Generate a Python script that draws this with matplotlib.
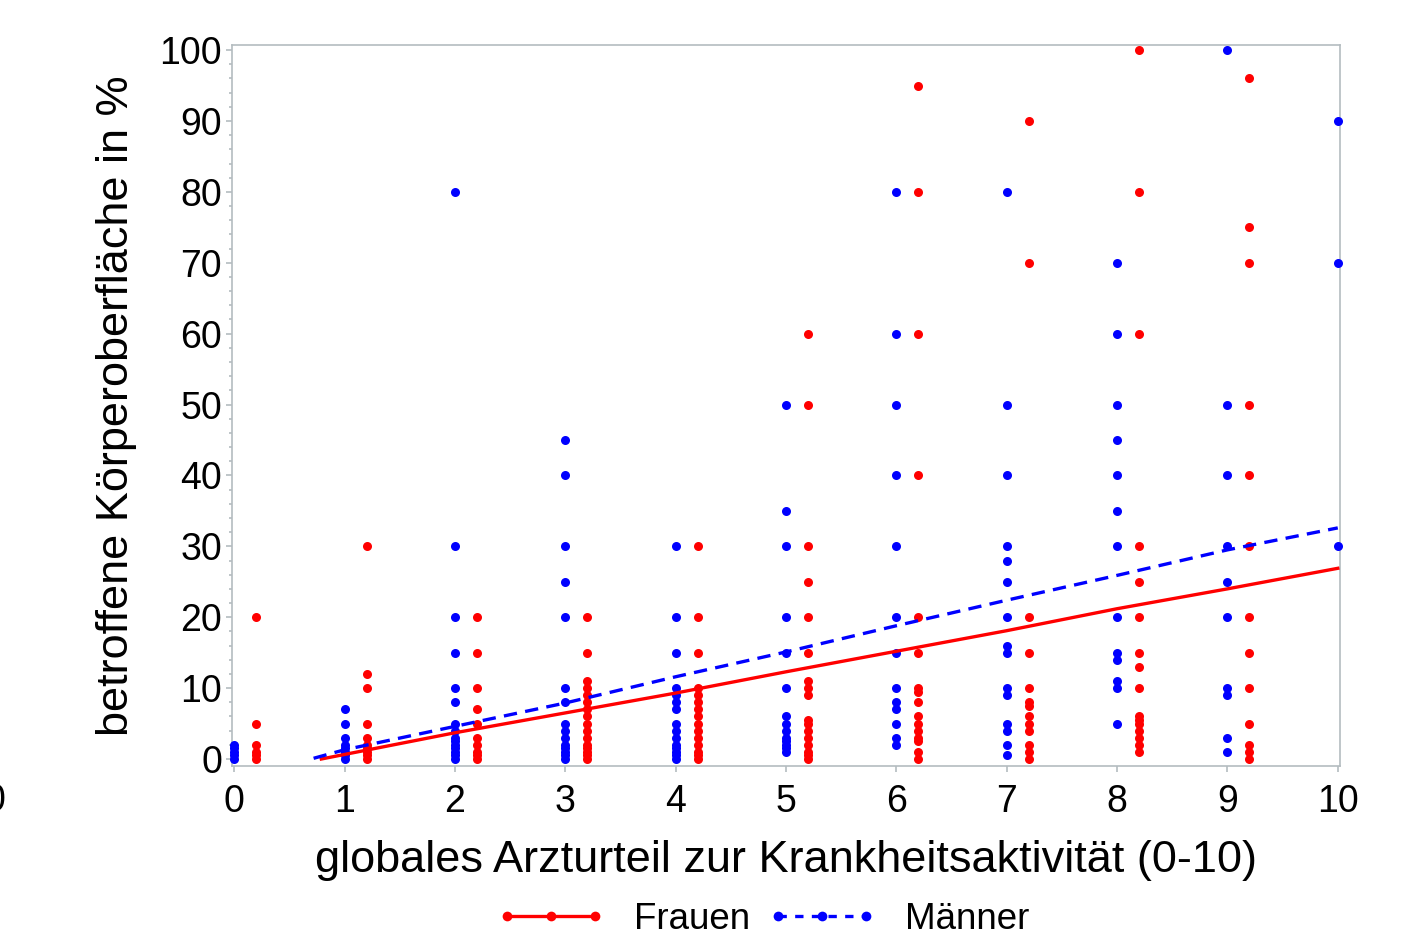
import matplotlib
matplotlib.use('Agg')
import matplotlib.pyplot as plt
from matplotlib.ticker import MultipleLocator
from matplotlib.legend_handler import HandlerLine2D

plt.rcParams['font.family'] = ['Liberation Sans', 'DejaVu Sans']

# Punktwerte je Arzturteil (Männer bei x, Frauen bei x + 0.2)
maenner = {
    0: [0, 0.5, 1, 1.5, 2],
    1: [0, 0.5, 1, 1.5, 2, 3, 5, 7],
    2: [0, 0.5, 1, 1.5, 2, 2.5, 3, 4, 5, 8, 10, 15, 20, 30, 80],
    3: [0, 0.5, 1, 1.5, 2, 3, 4, 5, 8, 10, 20, 25, 30, 40, 45],
    4: [0, 0.5, 1, 1.5, 2, 3, 4, 5, 7, 8, 9, 10, 15, 20, 30],
    5: [1, 1.5, 2, 2.5, 3, 4, 5, 6, 10, 15, 20, 30, 35, 50],
    6: [2, 3, 5, 7, 8, 10, 15, 20, 30, 40, 50, 60, 80],
    7: [0.5, 2, 4, 5, 9, 10, 15, 16, 20, 25, 28, 30, 40, 50, 80],
    8: [5, 10, 11, 14, 15, 20, 30, 35, 40, 45, 50, 60, 70],
    9: [1, 3, 9, 10, 20, 25, 30, 40, 50, 100],
    10: [30, 70, 90],
}
frauen = {
    0: [0, 0.5, 1, 2, 5, 20],
    1: [0, 0.5, 1, 1.5, 2, 3, 5, 10, 12, 30],
    2: [0, 0.5, 1, 2, 3, 5, 7, 10, 15, 20],
    3: [0, 0.5, 1, 1.5, 2, 3, 4, 5, 6, 7, 8, 9, 10, 11, 15, 20],
    4: [0, 0.5, 1, 2, 3, 4, 5, 6, 7, 8, 9, 10, 15, 20, 30],
    5: [0, 0.5, 1, 2, 3, 4, 5, 5.5, 9, 10, 11, 15, 20, 25, 30, 50, 60],
    6: [0, 1, 2.5, 3, 4, 5, 6, 8, 9.5, 10, 15, 20, 40, 60, 80, 95],
    7: [0, 1, 2, 4, 5, 6, 7.5, 8, 10, 15, 20, 70, 90],
    8: [1, 2, 3, 4, 5, 5.5, 6, 10, 13, 15, 20, 25, 30, 60, 80, 100],
    9: [0, 1, 2, 5, 10, 15, 20, 30, 40, 50, 70, 75, 96],
}

# Regressionslinien
fit_x_m = [0.72, 1, 2, 3, 4, 5, 6, 7, 8, 9, 10]
fit_y_m = [0.1, 1.3, 4.6, 7.9, 11.6, 15.1, 18.8, 22.4, 25.9, 29.5, 32.6]
fit_x_f = [0.79, 2, 3, 4, 5, 6, 7, 8, 9, 10]
fit_y_f = [0.0, 3.7, 6.5, 9.3, 12.3, 15.2, 18.1, 21.2, 24.0, 26.9]

rot = '#ff0000'
blau = '#0000ff'
rahmen = '#b4bcc0'

fig = plt.figure(figsize=(14.04, 9.40), dpi=100)
ax = fig.add_axes([0.1652, 0.185, 0.7892, 0.767])

for x, werte in maenner.items():
    ax.plot([x] * len(werte), werte, 'o', color=blau, markersize=6.5,
            markeredgewidth=0, clip_on=False, zorder=3)
for x, werte in frauen.items():
    ax.plot([x + 0.2] * len(werte), werte, 'o', color=rot, markersize=6.5,
            markeredgewidth=0, clip_on=False, zorder=3)

ax.plot(fit_x_f, fit_y_f, '-', color=rot, linewidth=2.4, zorder=4)
ax.plot(fit_x_m, fit_y_m, '--', color=blau, linewidth=2.4, dashes=(4, 2.5), zorder=4)

ax.set_xlim(-0.02, 10.02)
ax.set_ylim(-1, 100.7)
ax.xaxis.set_major_locator(MultipleLocator(1))
ax.yaxis.set_major_locator(MultipleLocator(10))
ax.yaxis.set_minor_locator(MultipleLocator(2))

for s in ax.spines.values():
    s.set_color(rahmen)
    s.set_linewidth(1.2)
ax.tick_params(axis='both', which='major', direction='out', length=4.5, width=1.2,
               color=rahmen, labelsize=27, pad=2.5)
ax.tick_params(axis='x', which='major', pad=8.5)
ax.tick_params(axis='y', which='minor', direction='out', length=2.5, width=1.2, color=rahmen)

ax.set_xlabel('globales Arzturteil zur Krankheitsaktivität (0-10)', fontsize=32.5, labelpad=14)
ax.set_ylabel('betroffene Körperoberfläche in %', fontsize=32.5, labelpad=16)

# Legende unten
h_f, = ax.plot([], [], '-', color=rot, linewidth=2.4, marker='o', markersize=7,
               markeredgewidth=0)
h_m, = ax.plot([], [], '--', color=blau, linewidth=2.4, dashes=(2.5, 2.5), marker='o',
               markersize=7, markeredgewidth=0)
fig.legend([h_f, h_m], ['Frauen', 'Männer'], loc='center', bbox_to_anchor=(0.543, 0.022),
           ncol=2, frameon=False, fontsize=26.5, handlelength=3.0, handletextpad=0.75,
           columnspacing=0.45,
           handler_map={h_f: HandlerLine2D(numpoints=3), h_m: HandlerLine2D(numpoints=3)})

fig.text(0.004, 0.148, '0', fontsize=27, ha='right', va='center')

fig.savefig('out.png', dpi=100)
